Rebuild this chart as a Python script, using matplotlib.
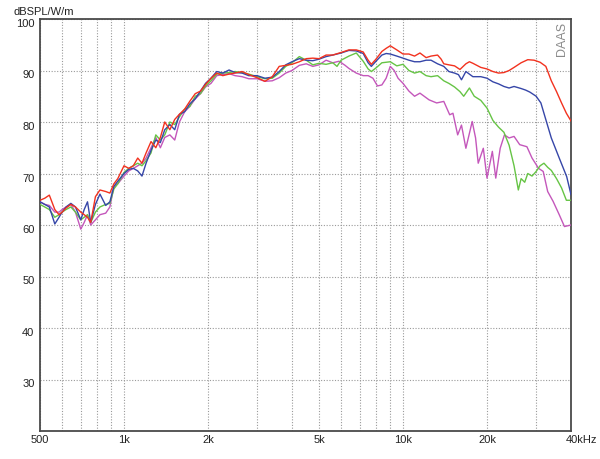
import matplotlib
matplotlib.use('Agg')
import matplotlib.pyplot as plt
import matplotlib.transforms as mtransforms
import numpy as np
from matplotlib.ticker import FixedLocator, FixedFormatter, NullFormatter

plt.rcParams['font.family'] = ['Liberation Sans', 'DejaVu Sans']

# ---- data (Hz, dB) ----
freq_low = [500, 520, 540, 565, 585, 600, 620, 645, 670, 700, 720, 740, 760, 790, 820, 860, 890, 920, 950,
            1000, 1040, 1080, 1120, 1160, 1200, 1250, 1300, 1350, 1400, 1460, 1520, 1580, 1650, 1720, 1800,
            1880, 1960, 2050, 2150, 2260, 2380, 2500, 2650, 2800, 3000, 3200, 3400, 3600, 3800, 4000, 4250,
            4500, 4750, 5000]
red_low = [64.8, 65.2, 65.8, 63.0, 62.0, 62.5, 63.3, 64.0, 63.5, 62.5, 62.0, 61.5, 60.5, 65.5, 66.8, 66.5, 66.2,
           68.0, 69.0, 71.5, 71.0, 71.5, 73.0, 72.0, 74.0, 76.2, 75.0, 77.0, 80.0, 78.5, 80.5, 81.5, 82.5, 84.0,
           85.5, 86.0, 87.3, 88.5, 89.5, 89.0, 89.3, 89.5, 89.8, 89.2, 88.6, 87.9, 88.8, 90.8, 91.0, 91.2, 91.7,
           92.3, 92.4, 92.3]
blue_low = [64.5, 64.0, 63.5, 60.2, 61.5, 62.5, 63.5, 64.2, 63.5, 61.0, 63.0, 64.5, 60.5, 64.0, 66.0, 63.8, 64.5,
            67.5, 68.5, 70.0, 70.8, 71.0, 70.5, 69.5, 72.0, 74.5, 76.5, 76.0, 78.5, 79.5, 78.5, 81.5, 82.0, 83.5,
            84.5, 86.0, 87.5, 88.5, 89.8, 89.5, 90.1, 89.6, 89.5, 89.0, 89.0, 88.5, 88.7, 89.8, 91.1, 91.7, 92.3,
            92.0, 91.9, 92.2]
green_low = [64.0, 63.5, 63.0, 61.5, 62.0, 62.5, 63.0, 63.5, 62.5, 61.0, 61.5, 62.0, 60.5, 62.5, 63.5, 64.0, 64.2,
             67.0, 68.0, 70.2, 71.0, 71.5, 72.0, 71.5, 72.5, 74.0, 77.5, 76.5, 77.5, 80.0, 79.5, 81.0, 82.5, 83.0,
             85.0, 85.5, 87.0, 88.0, 89.3, 89.5, 89.6, 89.8, 89.6, 89.3, 88.8, 88.4, 88.5, 89.5, 90.8, 91.5, 92.7,
             92.0, 91.1, 91.4]
magenta_low = [64.5, 64.0, 63.8, 62.5, 62.5, 63.0, 63.5, 64.0, 62.5, 59.2, 60.5, 62.0, 60.0, 61.0, 62.0, 62.3, 63.5,
               67.5, 68.0, 69.5, 70.5, 71.0, 71.5, 72.0, 73.0, 75.0, 77.0, 75.0, 77.0, 77.5, 76.5, 80.0, 82.0, 83.0,
               84.5, 85.5, 86.8, 87.5, 89.0, 89.2, 89.4, 89.0, 88.8, 88.4, 88.4, 87.9, 88.0, 88.6, 89.5, 90.0, 91.0,
               91.3, 90.8, 91.1]

red_high_f = [5300, 5600, 6000, 6400, 6800, 7200, 7500, 7700, 8000, 8400, 8700, 9000, 9500, 10000, 10500, 11000,
              11500, 12100, 12600, 13300, 13700, 14000, 14600, 15300, 16000, 16800, 17300, 17800, 19000, 20000,
              21000, 22000, 23000, 24000, 25000, 26500, 28000, 29500, 31000, 32500, 34000, 35500, 37000, 38500, 40000]
red_high_db = [93.0, 93.0, 93.5, 94.0, 94.0, 93.6, 92.0, 91.2, 92.2, 93.7, 94.3, 94.8, 94.0, 93.2, 93.2, 92.8,
               93.4, 92.5, 92.8, 93.0, 92.2, 91.3, 91.1, 90.9, 90.2, 91.3, 91.7, 91.4, 90.6, 90.3,
               89.8, 89.5, 89.6, 90.0, 90.6, 91.5, 92.1, 92.0, 91.6, 90.8, 88.0, 85.9, 83.7, 81.7, 80.2]

blue_high_f = [5300, 5600, 6000, 6400, 6800, 7200, 7500, 7700, 8000, 8400, 8700, 9000, 9500, 10000, 10500, 11000,
               11500, 12100, 12600, 13300, 14000, 14600, 15300, 15800, 16200, 16800, 17800, 19000, 20000, 21000,
               22000, 23000, 24000, 25000, 26500, 27500, 28500, 30000, 31200, 32400, 34000, 36300, 38600, 40000]
blue_high_db = [92.7, 93.0, 93.4, 93.9, 93.8, 93.3, 91.5, 90.8, 91.8, 93.0, 93.3, 93.2, 92.8, 92.4, 92.0, 91.7,
                91.7, 92.0, 92.0, 91.3, 90.8, 89.8, 89.5, 89.2, 88.2, 89.8, 88.8, 88.8, 88.5, 87.8,
                87.4, 86.9, 86.6, 86.9, 86.5, 86.2, 85.8, 85.0, 83.7, 80.7, 76.9, 73.0, 69.4, 65.9]

green_high_f = [5300, 5600, 5800, 6000, 6400, 6800, 7200, 7500, 7700, 8000, 8400, 8700, 9000, 9500, 10000, 10500,
                11000, 11500, 12100, 12600, 13300, 14000, 14600, 15300, 16000, 16500, 17300, 18000, 19000, 20000,
                21000, 22000, 23000, 24000, 25000, 25900, 26500, 27300, 28000, 29000, 30000, 31000, 32000, 33000,
                34000, 35500, 37000, 38500, 40000]
green_high_db = [91.2, 91.5, 90.8, 92.0, 92.8, 93.4, 91.8, 90.3, 89.8, 90.5, 91.5, 91.6, 91.7, 90.9, 91.2, 90.0,
                 89.5, 89.8, 89.0, 88.8, 89.0, 88.0, 87.5, 86.8, 85.9, 85.0, 86.6, 85.0, 84.2, 82.7,
                 80.3, 79.0, 78.0, 75.5, 71.5, 66.8, 69.0, 68.3, 70.0, 69.5, 70.4, 71.5, 72.0, 71.2,
                 70.6, 69.0, 67.2, 64.8, 64.8]

magenta_high_f = [5300, 5600, 5900, 6200, 6400, 6800, 7200, 7500, 7800, 8100, 8400, 8700, 9000, 9300, 9600, 10000,
                  10500, 11000, 11500, 12400, 13200, 14000, 14700, 15100, 15700, 16200, 16800, 17700, 18200, 18600,
                  19400, 20000, 20900, 21500, 22300, 23100, 24000, 25000, 26200, 27800, 29000, 30600, 31800, 33000,
                  34500, 36300, 37900, 40000]
magenta_high_db = [92.0, 91.5, 91.8, 91.0, 90.4, 89.5, 89.0, 89.0, 88.5, 87.0, 87.2, 88.5, 90.8, 90.0, 88.5, 87.5,
                   86.0, 85.0, 85.6, 84.3, 83.7, 84.0, 81.4, 81.7, 77.5, 79.4, 74.9, 80.1, 76.9, 72.0,
                   74.9, 69.1, 74.3, 69.1, 74.9, 77.5, 76.9, 77.2, 75.6, 75.2, 73.0, 71.0, 70.4, 66.5,
                   64.6, 62.0, 59.7, 60.0]

x_major = [500, 1000, 2000, 5000, 10000, 20000, 40000]
x_major_labels = ['500', '1k', '2k', '5k', '10k', '20k', '40kHz']
x_minor = [600, 700, 800, 900, 3000, 4000, 6000, 7000, 8000, 9000, 30000]
y_ticks = [30, 40, 50, 60, 70, 80, 90, 100]

# ---- figure ----
fig = plt.figure(figsize=(6, 4.6), dpi=100)
ax = fig.add_axes([40 / 600, 28 / 460, 531 / 600, 412 / 460])
ax.set_xscale('log')
ax.set_xlim(500, 40000)
ax.set_ylim(20, 100)

curves = [
    (freq_low + magenta_high_f, magenta_low + magenta_high_db, '#c457bb'),
    (freq_low + green_high_f, green_low + green_high_db, '#66c445'),
    (freq_low + blue_high_f, blue_low + blue_high_db, '#3646a8'),
    (freq_low + red_high_f, red_low + red_high_db, '#f2321f'),
]
for f, db, c in curves:
    ax.plot(f, db, color=c, lw=1.0, zorder=3)

ax.xaxis.set_major_locator(FixedLocator(x_major))
ax.xaxis.set_major_formatter(FixedFormatter(x_major_labels))
ax.xaxis.set_minor_locator(FixedLocator(x_minor))
ax.xaxis.set_minor_formatter(NullFormatter())
ax.set_yticks(y_ticks)
ax.set_yticklabels([str(v) for v in y_ticks])

ax.tick_params(axis='both', which='both', length=0, labelsize=8, colors='#222222')
ax.tick_params(axis='x', pad=2)
ax.tick_params(axis='y', pad=4)

down = mtransforms.ScaledTranslation(0, -3 / 100, fig.dpi_scale_trans)
for lbl in ax.get_yticklabels():
    lbl.set_transform(lbl.get_transform() + down)
left = mtransforms.ScaledTranslation(-5 / 100, 0, fig.dpi_scale_trans)
for lbl in ax.get_xticklabels():
    if lbl.get_text() == '40kHz':
        lbl.set_horizontalalignment('left')
        lbl.set_transform(lbl.get_transform() + left)

grid_kw = dict(color='#9a9a9a', lw=0.8, linestyle=(0, (1, 1.5)))
ax.grid(True, which='both', axis='x', **grid_kw)
ax.grid(True, which='major', axis='y', **grid_kw)
ax.set_axisbelow(True)

for s in ax.spines.values():
    s.set_color('#4a4a4a')
    s.set_linewidth(1.3)

fig.text(14 / 600, 1 - 12 / 460, 'dBSPL/W/m', fontsize=8, color='#222222', ha='left', va='center')
ax.text(0.994, 0.995, 'DAAS', transform=ax.transAxes, rotation=90, ha='right', va='top',
        fontsize=9, color='#8a8a8a', fontstretch='condensed')

fig.savefig('out.png', dpi=100)
